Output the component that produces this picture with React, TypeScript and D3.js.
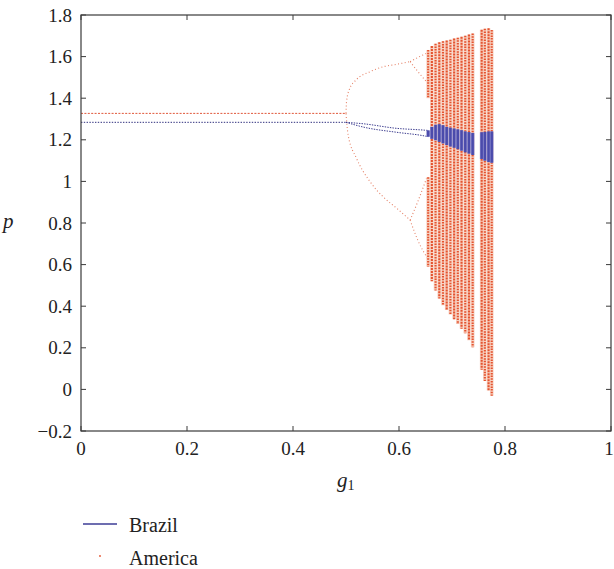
import React from "react";
import * as d3 from "d3";

// ---- axes ----
const xTicks = [0, 0.2, 0.4, 0.6, 0.8, 1];
const yTicks = [-0.2, 0, 0.2, 0.4, 0.6, 0.8, 1, 1.2, 1.4, 1.6, 1.8];

// ---- period-1 fixed points (g1 from 0 to 0.5) ----
const fixedG = [0, 0.5];
const americaFixedP = [1.327, 1.327];
const brazilFixedP = [1.284, 1.284];

// ---- America period-doubling branches ----
const amUpperG = [0.5, 0.501, 0.506, 0.52, 0.545, 0.57, 0.596, 0.621];
const amUpperP = [1.327, 1.383, 1.44, 1.49, 1.527, 1.551, 1.563, 1.576];
const amUpperAG = [0.621, 0.635, 0.652];
const amUpperAP = [1.576, 1.595, 1.616];
const amUpperBG = [0.621, 0.635, 0.652];
const amUpperBP = [1.576, 1.53, 1.479];
const amLowerG = [0.5, 0.504, 0.52, 0.545, 0.57, 0.596, 0.621];
const amLowerP = [1.327, 1.223, 1.11, 1.0, 0.926, 0.87, 0.814];
const amLowerAG = [0.621, 0.635, 0.652];
const amLowerAP = [0.814, 0.9, 1.015];
const amLowerBG = [0.621, 0.635, 0.658];
const amLowerBP = [0.814, 0.72, 0.614];

// ---- Brazil branches before chaos ----
const brG = [0.5, 0.533, 0.596, 0.645, 0.655];
const brUpperP = [1.284, 1.277, 1.255, 1.247, 1.245];
const brLowerP = [1.284, 1.261, 1.236, 1.22, 1.215];

// ---- chaotic region columns ----
const chaosG = [0.655, 0.662, 0.669, 0.676, 0.683, 0.69, 0.697, 0.704, 0.711, 0.718, 0.725, 0.732, 0.739, 0.756, 0.762, 0.769, 0.775];
const amTop = [1.632, 1.651, 1.662, 1.669, 1.674, 1.678, 1.681, 1.687, 1.691, 1.696, 1.7, 1.706, 1.711, 1.729, 1.734, 1.736, 1.728];
const amBottom = [0.59, 0.52, 0.476, 0.437, 0.405, 0.382, 0.36, 0.337, 0.315, 0.292, 0.27, 0.236, 0.203, 0.095, 0.04, -0.005, -0.03];
const amGapG = [0.655];
const amGapHi = [1.4];
const amGapLo = [1.02];
const brTop = [1.245, 1.262, 1.272, 1.275, 1.27, 1.262, 1.258, 1.254, 1.25, 1.246, 1.24, 1.237, 1.233, 1.236, 1.238, 1.24, 1.24];
const brBottom = [1.215, 1.205, 1.198, 1.19, 1.183, 1.175, 1.168, 1.162, 1.155, 1.148, 1.14, 1.134, 1.127, 1.108, 1.1, 1.093, 1.09];

const RED = "#e4532f";
const BLUE = "#4b4bab";
const SERIF = '"Liberation Serif", "Times New Roman", Times, serif';

export default function App() {
  const x = d3.scaleLinear().domain([0, 1]).range([81, 611]);
  const y = d3.scaleLinear().domain([-0.2, 1.8]).range([431, 15]);
  const line = d3
    .line<[number, number]>()
    .x((d) => x(d[0]))
    .y((d) => y(d[1]))
    .curve(d3.curveMonotoneX);
  const pts = (g: number[], p: number[]) => g.map((v, i) => [v, p[i]] as [number, number]);

  const amSegs: { g: number; hi: number; lo: number; i: number }[] = [];
  chaosG.forEach((g, i) => {
    const gi = amGapG.indexOf(g);
    if (gi >= 0) {
      amSegs.push({ g, hi: amTop[i], lo: amGapHi[gi], i });
      amSegs.push({ g, hi: amGapLo[gi], lo: amBottom[i], i });
    } else {
      amSegs.push({ g, hi: amTop[i], lo: amBottom[i], i });
    }
  });

  const branches = [
    pts(amUpperG, amUpperP),
    pts(amUpperAG, amUpperAP),
    pts(amUpperBG, amUpperBP),
    pts(amLowerG, amLowerP),
    pts(amLowerAG, amLowerAP),
    pts(amLowerBG, amLowerBP),
  ];

  const tStyle = { fontFamily: SERIF } as React.CSSProperties;

  return (
    <svg
      width={614}
      height={569}
      style={{ position: "absolute", left: 0, top: 0, background: "#fff", fontFamily: SERIF }}
    >
      <path d={line(pts(fixedG, americaFixedP)) || ""} fill="none" stroke="#e0573a" strokeWidth={1} strokeDasharray="2 1.4" />
      <path d={line(pts(fixedG, brazilFixedP)) || ""} fill="none" stroke="#2f2f7e" strokeWidth={1} strokeDasharray="1.4 1.4" />

      {branches.map((b, i) => (
        <path
          key={"b" + i}
          d={line(b) || ""}
          fill="none"
          stroke="#e06a4a"
          strokeWidth={1.1}
          strokeDasharray="1 2.4"
          opacity={0.85}
        />
      ))}

      <path d={line(pts(brG, brUpperP)) || ""} fill="none" stroke="#3b3b8e" strokeWidth={1} strokeDasharray="1.4 1.2" />
      <path d={line(pts(brG, brLowerP)) || ""} fill="none" stroke="#3b3b8e" strokeWidth={1} strokeDasharray="1.4 1.2" />

      {amSegs.map((s, k) => (
        <line key={"ap" + k} x1={x(s.g)} x2={x(s.g)} y1={y(s.hi)} y2={y(s.lo)} stroke="#f7cfbf" strokeWidth={3.6} />
      ))}
      {amSegs.map((s, k) => (
        <line
          key={"a" + k}
          x1={x(s.g)}
          x2={x(s.g)}
          y1={y(s.hi)}
          y2={y(s.lo)}
          stroke={RED}
          strokeWidth={2.1}
          strokeDasharray={s.i % 2 ? "2 1" : "1.5 1.2"}
        />
      ))}

      {chaosG.map((g, i) => (
        <line key={"bp" + i} x1={x(g)} x2={x(g)} y1={y(brTop[i])} y2={y(brBottom[i])} stroke="#8d8dd0" strokeWidth={3.6} />
      ))}
      {chaosG.map((g, i) => (
        <line key={"bc" + i} x1={x(g)} x2={x(g)} y1={y(brTop[i])} y2={y(brBottom[i])} stroke={BLUE} strokeWidth={2.4} />
      ))}

      <rect x={81} y={15} width={530} height={416} fill="none" stroke="#3a3a3a" strokeWidth={1.2} />

      {xTicks.map((t) => (
        <g key={"xt" + t}>
          <line x1={x(t)} x2={x(t)} y1={431} y2={426} stroke="#3a3a3a" />
          <line x1={x(t)} x2={x(t)} y1={15} y2={20} stroke="#3a3a3a" />
          <text x={x(t)} dx={t === 1 ? -2 : 0} y={455} textAnchor="middle" fontSize={19} fill="#222" style={tStyle}>
            {String(t)}
          </text>
        </g>
      ))}

      {yTicks.map((t) => (
        <g key={"yt" + t}>
          <line x1={81} x2={86} y1={y(t)} y2={y(t)} stroke="#3a3a3a" />
          <line x1={611} x2={606} y1={y(t)} y2={y(t)} stroke="#3a3a3a" />
          <text x={72} y={y(t) + 6.5} textAnchor="end" fontSize={19} fill="#222" style={tStyle}>
            {t < 0 ? "\u2212" + String(Math.abs(t)) : String(t)}
          </text>
        </g>
      ))}

      <text x={337} y={487} fontSize={21} fontStyle="italic" fill="#222" style={tStyle}>
        g
        <tspan fontSize={14} fontStyle="normal" dy={3}>
          1
        </tspan>
      </text>
      <text x={3} y={228} fontSize={21} fontStyle="italic" fill="#222" style={tStyle}>
        p
      </text>

      <line x1={83} x2={117} y1={524} y2={524} stroke="#3c3c96" strokeWidth={1.3} />
      <text x={129} y={532} fontSize={20} fill="#222" style={tStyle}>
        Brazil
      </text>
      <circle cx={100} cy={556} r={0.9} fill={RED} />
      <text x={129} y={565} fontSize={20} fill="#222" style={tStyle}>
        America
      </text>
    </svg>
  );
}
